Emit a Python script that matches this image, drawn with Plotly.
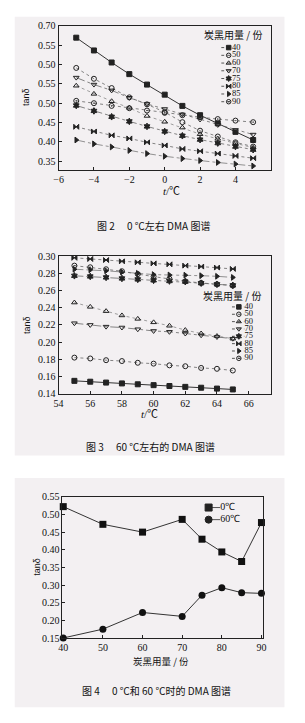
import plotly.graph_objects as go

W, H = 305, 723

# ---------------- data ----------------
# Fig.2 : tan delta around 0 C
t_0c = [-5, -4, -3, -2, -1, 0, 1, 2, 3, 4, 5]
loadings = ["40", "50", "60", "70", "75", "80", "85", "90"]
tan0_40 = [0.669, 0.636, 0.605, 0.575, 0.548, 0.522, 0.493, 0.469, 0.448, 0.426, 0.405]
tan0_50 = [0.591, 0.563, 0.539, 0.515, 0.497, 0.477, 0.451, 0.429, 0.414, 0.399, 0.388]
tan0_60 = [0.545, 0.524, 0.505, 0.488, 0.467, 0.452, 0.437, 0.420, 0.408, 0.397, 0.385]
tan0_70 = [0.566, 0.548, 0.533, 0.514, 0.498, 0.485, 0.471, 0.458, 0.444, 0.431, 0.419]
tan0_75 = [0.494, 0.480, 0.465, 0.453, 0.440, 0.427, 0.416, 0.406, 0.397, 0.388, 0.380]
tan0_80 = [0.439, 0.427, 0.417, 0.409, 0.399, 0.391, 0.382, 0.376, 0.370, 0.364, 0.358]
tan0_85 = [0.405, 0.395, 0.387, 0.378, 0.370, 0.363, 0.357, 0.352, 0.347, 0.343, 0.338]
tan0_90 = [0.506, 0.500, 0.493, 0.487, 0.481, 0.475, 0.469, 0.464, 0.459, 0.455, 0.451]

# Fig.3 : tan delta around 60 C
t_60c = [55, 56, 57, 58, 59, 60, 61, 62, 63, 64, 65]
tan60_40 = [0.155, 0.154, 0.153, 0.152, 0.151, 0.150, 0.149, 0.148, 0.147, 0.146, 0.145]
tan60_50 = [0.182, 0.181, 0.179, 0.178, 0.176, 0.175, 0.173, 0.172, 0.170, 0.169, 0.167]
tan60_60 = [0.246, 0.241, 0.236, 0.231, 0.227, 0.223, 0.219, 0.214, 0.210, 0.207, 0.204]
tan60_70 = [0.222, 0.220, 0.218, 0.217, 0.215, 0.213, 0.212, 0.210, 0.208, 0.206, 0.204]
tan60_75 = [0.2771, 0.2763, 0.2752, 0.2740, 0.2729, 0.2718, 0.2710, 0.2703, 0.2685, 0.2672, 0.2660]
tan60_80 = [0.2980, 0.2966, 0.2954, 0.2939, 0.2927, 0.2915, 0.2904, 0.2889, 0.2878, 0.2866, 0.2851]
tan60_85 = [0.2847, 0.2840, 0.2829, 0.2815, 0.2800, 0.2785, 0.2780, 0.2778, 0.2772, 0.2765, 0.2752]
tan60_90 = [0.2889, 0.2870, 0.2847, 0.2824, 0.2790, 0.2763, 0.2737, 0.2706, 0.2688, 0.2672, 0.2657]

# Fig.4 : tan delta at 0 C and 60 C vs loading
parts = [40, 50, 60, 70, 75, 80, 85, 90]
tan_at_0c = [0.522, 0.472, 0.450, 0.486, 0.430, 0.394, 0.367, 0.477]
tan_at_60c = [0.151, 0.176, 0.223, 0.212, 0.272, 0.293, 0.279, 0.277]

# tick labels
y1_tickvals = [0.35, 0.40, 0.45, 0.50, 0.55, 0.60, 0.65, 0.70]
y1_ticktext = ["0.35", "0.40", "0.45", "0.50", "0.55", "0.50", "0.55", "0.70"]
x1_tickvals = [-6, -4, -2, 0, 2, 4]
x2_tickvals = [54, 56, 58, 60, 62, 64, 66]
y2_tickvals = [0.14, 0.16, 0.18, 0.20, 0.22, 0.24, 0.26, 0.28, 0.30]
x3_tickvals = [40, 50, 60, 70, 80, 90]
y3_tickvals = [0.15, 0.20, 0.25, 0.30, 0.35, 0.40, 0.45, 0.50, 0.55]

# ---------------- styles ----------------
STY = {
    "40": dict(symbol="square", dash="solid", lw=1.0, lc="#333"),
    "50": dict(symbol="circle-open", dash="dot", lw=0.8, lc="#666"),
    "60": dict(symbol="triangle-up-open", dash="dot", lw=0.8, lc="#888"),
    "70": dict(symbol="triangle-down-open", dash="dashdot", lw=0.8, lc="#666"),
    "75": dict(symbol="hexagram", dash="dashdot", lw=0.8, lc="#666"),
    "80": dict(symbol="bowtie", dash="dot", lw=0.8, lc="#666"),
    "85": dict(symbol="triangle-right", dash="dashdot", lw=0.8, lc="#777"),
    "90": dict(symbol="circle-open-dot", dash="dot", lw=0.8, lc="#666"),
}
MK = "#222"
SERIF = "Liberation Serif, Times New Roman, serif"
CJK = "Noto Sans CJK SC, sans-serif"


def px_x(p):
    return p / W


def px_y(p):
    return 1 - p / H


fig = go.Figure()

series_0c = [tan0_40, tan0_50, tan0_60, tan0_70, tan0_75, tan0_80, tan0_85, tan0_90]
series_60c = [tan60_40, tan60_50, tan60_60, tan60_70, tan60_75, tan60_80, tan60_85, tan60_90]

for name, ys in zip(loadings, series_0c):
    s = STY[name]
    fig.add_trace(go.Scatter(x=t_0c, y=ys, mode="lines+markers", name=name,
                             line=dict(color=s["lc"], width=s["lw"], dash=s["dash"]),
                             marker=dict(symbol=s["symbol"], size=5, color=MK,
                                         line=dict(color=MK, width=1)),
                             cliponaxis=False, xaxis="x", yaxis="y"))

for name, ys in zip(loadings, series_60c):
    s = STY[name]
    fig.add_trace(go.Scatter(x=t_60c, y=ys, mode="lines+markers", name=name,
                             line=dict(color=s["lc"], width=s["lw"], dash=s["dash"]),
                             marker=dict(symbol=s["symbol"], size=5, color=MK,
                                         line=dict(color=MK, width=1)),
                             cliponaxis=False, xaxis="x2", yaxis="y2"))

fig.add_trace(go.Scatter(x=parts, y=tan_at_0c, mode="lines+markers", name="0℃",
                         line=dict(color="#333", width=1),
                         marker=dict(symbol="square", size=7, color="#111"),
                         cliponaxis=False, xaxis="x3", yaxis="y3"))
fig.add_trace(go.Scatter(x=parts, y=tan_at_60c, mode="lines+markers", name="60℃",
                         line=dict(color="#333", width=1),
                         marker=dict(symbol="circle", size=7, color="#111"),
                         cliponaxis=False, xaxis="x3", yaxis="y3"))


# ---------------- custom legends (own small axes) ----------------
def add_legend(idx, labels, symbols, dashes, x0, x1, mfrac, first_y, step, msize, fsize, lcolors):
    n = len(labels)
    top = first_y - step / 2
    bot = first_y + step * (n - 0.5)
    fig.layout[f"xaxis{idx}"] = dict(domain=[px_x(x0), px_x(x1)], range=[0, 1], visible=False,
                                     anchor=f"y{idx}", fixedrange=True)
    fig.layout[f"yaxis{idx}"] = dict(domain=[px_y(bot), px_y(top)], range=[n - 0.5, -0.5],
                                     visible=False, anchor=f"x{idx}", fixedrange=True)
    for i, lab in enumerate(labels):
        fig.add_trace(go.Scatter(x=[0, 1], y=[i, i], mode="lines", showlegend=False,
                                 line=dict(color=lcolors[i], width=0.9, dash=dashes[i]),
                                 xaxis=f"x{idx}", yaxis=f"y{idx}", cliponaxis=False, hoverinfo="skip"))
        fig.add_trace(go.Scatter(x=[mfrac], y=[i], mode="markers", showlegend=False,
                                 marker=dict(symbol=symbols[i], size=msize, color=MK,
                                             line=dict(color=MK, width=1)),
                                 xaxis=f"x{idx}", yaxis=f"y{idx}", cliponaxis=False, hoverinfo="skip"))
        fig.add_trace(go.Scatter(x=[1], y=[i], mode="text", text=[lab], textposition="middle right",
                                 textfont=dict(family=SERIF, size=fsize, color="#111"), showlegend=False,
                                 xaxis=f"x{idx}", yaxis=f"y{idx}", cliponaxis=False, hoverinfo="skip"))


add_legend(4, loadings, [STY[k]["symbol"] for k in loadings], ["dot"] * 8,
           222, 233, 0.7, 42.3, 7.86, 4.5, 8.5, ["#444"] * 8)
add_legend(5, loadings, [STY[k]["symbol"] for k in loadings], ["dot"] * 8,
           233, 246, 0.55, 306.0, 7.47, 4.5, 8.5, ["#444"] * 8)
add_legend(6, ["0℃", "60℃"], ["square", "circle"], ["solid", "solid"],
           207, 221, 0.15, 510.0, 12.3, 7, 10, ["#444"] * 2)

# ---------------- main axes ----------------
ax = dict(showline=True, linecolor="#222", linewidth=1, mirror=True, ticks="inside", ticklen=3,
          tickcolor="#222", tickfont=dict(family=SERIF, size=10, color="#111"),
          showgrid=False, zeroline=False, fixedrange=True)

fig.update_layout(
    width=W, height=H, margin=dict(l=0, r=0, t=0, b=0),
    paper_bgcolor="white", plot_bgcolor="rgba(0,0,0,0)", showlegend=False,
    xaxis=dict(ax, domain=[px_x(55), px_x(273)], range=[-6, 6], tickvals=x1_tickvals, anchor="y"),
    yaxis=dict(ax, domain=[px_y(167), px_y(20)], range=[0.327, 0.70], tickmode="array",
               tickvals=y1_tickvals, ticktext=y1_ticktext, anchor="x"),
    xaxis2=dict(ax, domain=[px_x(55), px_x(273)], range=[54, 67.4], tickvals=x2_tickvals, anchor="y2"),
    yaxis2=dict(ax, domain=[px_y(394.3), px_y(254.3)], range=[0.14, 0.30], tickvals=y2_tickvals,
                tickformat=".2f", anchor="x2"),
    xaxis3=dict(ax, domain=[px_x(59), px_x(265)], range=[39.8, 90.4], tickvals=x3_tickvals, anchor="y3"),
    yaxis3=dict(ax, domain=[px_y(643), px_y(499)], range=[0.15, 0.55], tickvals=y3_tickvals,
                tickformat=".2f", anchor="x3"),
)

# panel backgrounds
BG = "#f3f0f2"
fig.add_shape(type="rect", xref="paper", yref="paper", x0=px_x(10), x1=px_x(287),
              y0=px_y(457), y1=px_y(11), fillcolor=BG, line=dict(width=0), layer="below")
fig.add_shape(type="rect", xref="paper", yref="paper", x0=px_x(10), x1=px_x(287),
              y0=px_y(713), y1=px_y(480), fillcolor=BG, line=dict(width=0), layer="below")


def note(text, x, y, size=10, family=CJK, angle=0, xanchor="center"):
    fig.add_annotation(text=text, x=px_x(x), y=px_y(y), xref="paper", yref="paper",
                       showarrow=False, xanchor=xanchor, yanchor="middle", textangle=angle,
                       font=dict(family=family, size=size, color="#111"))


# legend titles
note("炭黑用量 / 份", 234, 29.0, size=10)
note("炭黑用量 / 份", 233, 294.5, size=10)
# axis titles
note("tanδ", 22, 92, size=9, family="Liberation Sans, Arial", angle=-90)
note("<i>t</i>/℃", 171, 188, size=11, family=SERIF + ", Noto Sans CJK SC")
note("tanδ", 22, 324, size=9, family="Liberation Sans, Arial", angle=-90)
note("<i>t</i>/℃", 148, 415, size=11, family=SERIF + ", Noto Sans CJK SC")
note("tanδ", 32, 570, size=9, family="Liberation Sans, Arial", angle=-90)
note("炭黑用量 / 份", 160, 666, size=9.5)
# captions
note("图 2　 0 ℃左右 DMA 图谱", 152, 223, size=10)
note("图 3　 60 ℃左右的 DMA 图谱", 149, 448, size=10)
note("图 4　 0 ℃和 60 ℃时的 DMA 图谱", 156, 696, size=10)

fig.write_html("out.html")
